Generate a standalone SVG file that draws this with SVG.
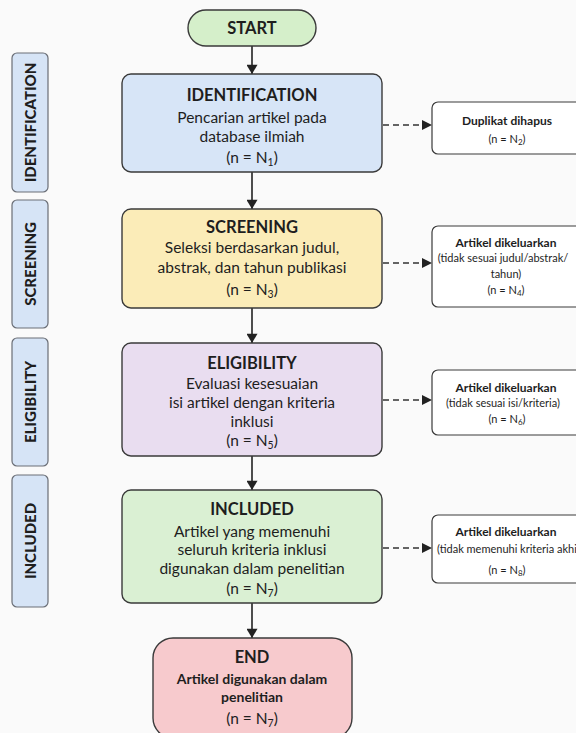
<svg xmlns="http://www.w3.org/2000/svg" width="576" height="733" viewBox="0 0 576 733">
<defs>
<style>
text{font-family:Lato,"Open Sans","Liberation Sans",sans-serif;fill:#1e1e1e;text-anchor:middle}
.t{font-size:16.5px;font-weight:700}
.b{font-size:15.5px}
.eb{font-size:14px;font-weight:700}
.st{font-size:12px;font-weight:700}
.sb{font-size:11px}
.lab{font-size:15px;font-weight:900}
.box{stroke:#3a3a3a;stroke-width:1.4}
.side{fill:#ffffff;stroke:#3a3a3a;stroke-width:1.2}
.bar{fill:#d6e4f6;stroke:#6a6e76;stroke-width:1.2}
.arr{stroke:#222;stroke-width:1.6;fill:none}
.dash{stroke:#333;stroke-width:1.4;fill:none;stroke-dasharray:6 4}
</style>
<marker id="ah" viewBox="0 0 10 12" refX="10" refY="6" markerWidth="12" markerHeight="11" markerUnits="userSpaceOnUse" orient="auto">
<path d="M0,0 L10,6 L0,12 Z" fill="#222"/>
</marker>
<marker id="ahs" viewBox="0 0 10 10" refX="10" refY="5" markerWidth="10" markerHeight="10" markerUnits="userSpaceOnUse" orient="auto">
<path d="M0,0 L10,5 L0,10 Z" fill="#222"/>
</marker>
</defs>
<rect width="576" height="733" fill="#fafafa"/>

<g id="label-identification"><rect class="bar" x="12" y="53" width="36" height="139" rx="5"/><text class="lab" transform="translate(35.5,122.5) rotate(-90)">IDENTIFICATION</text></g>
<g id="label-screening"><rect class="bar" x="12" y="200" width="36" height="128" rx="5"/><text class="lab" transform="translate(35.5,264) rotate(-90)">SCREENING</text></g>
<g id="label-eligibility"><rect class="bar" x="12" y="338" width="36" height="128" rx="5"/><text class="lab" transform="translate(35.5,402) rotate(-90)">ELIGIBILITY</text></g>
<g id="label-included"><rect class="bar" x="12" y="475" width="36" height="132" rx="5"/><text class="lab" transform="translate(35.5,541) rotate(-90)">INCLUDED</text></g>

<g id="connectors">
<line class="arr" x1="252" y1="46" x2="252" y2="74" marker-end="url(#ah)"/>
<line class="arr" x1="252" y1="172" x2="252" y2="209" marker-end="url(#ah)"/>
<line class="arr" x1="252" y1="308" x2="252" y2="343" marker-end="url(#ah)"/>
<line class="arr" x1="252" y1="456" x2="252" y2="490" marker-end="url(#ah)"/>
<line class="arr" x1="252" y1="603" x2="252" y2="638" marker-end="url(#ah)"/>
<line class="dash" x1="383" y1="125" x2="432" y2="125" marker-end="url(#ahs)"/>
<line class="dash" x1="383" y1="263" x2="432" y2="263" marker-end="url(#ahs)"/>
<line class="dash" x1="383" y1="400" x2="432" y2="400" marker-end="url(#ahs)"/>
<line class="dash" x1="383" y1="548" x2="432" y2="548" marker-end="url(#ahs)"/>
</g>

<g id="start"><rect class="box" x="188" y="10" width="128" height="36" rx="18" fill="#d5efca"/><text class="t" x="252" y="34">START</text></g>

<g id="identification"><rect class="box" x="122" y="74" width="260" height="98" rx="9" fill="#d7e5f7"/>
<text class="t" x="252" y="101">IDENTIFICATION</text>
<text class="b" x="252" y="122.5">Pencarian artikel pada</text>
<text class="b" x="252" y="141.5">database ilmiah</text>
<text class="b" x="252" y="162.5">(n = N<tspan font-size="10.5" dy="3">1</tspan><tspan dy="-3">)</tspan></text></g>

<g id="screening"><rect class="box" x="122" y="209" width="260" height="99" rx="9" fill="#fbecb8"/>
<text class="t" x="252" y="233">SCREENING</text>
<text class="b" x="252" y="252.5">Seleksi berdasarkan judul,</text>
<text class="b" x="252" y="272.5">abstrak, dan tahun publikasi</text>
<text class="b" x="252" y="294.5">(n = N<tspan font-size="10.5" dy="3">3</tspan><tspan dy="-3">)</tspan></text></g>

<g id="eligibility"><rect class="box" x="122" y="343" width="260" height="113" rx="9" fill="#e9ddf0"/>
<text class="t" x="252" y="369">ELIGIBILITY</text>
<text class="b" x="252" y="388.5">Evaluasi kesesuaian</text>
<text class="b" x="252" y="407.5">isi artikel dengan kriteria</text>
<text class="b" x="252" y="426.5">inklusi</text>
<text class="b" x="252" y="445.5">(n = N<tspan font-size="10.5" dy="3">5</tspan><tspan dy="-3">)</tspan></text></g>

<g id="included"><rect class="box" x="122" y="490" width="260" height="113" rx="9" fill="#daf0d3"/>
<text class="t" x="252" y="515">INCLUDED</text>
<text class="b" x="252" y="536.5">Artikel yang memenuhi</text>
<text class="b" x="252" y="554.5">seluruh kriteria inklusi</text>
<text class="b" x="252" y="573.5">digunakan dalam penelitian</text>
<text class="b" x="252" y="593.5">(n = N<tspan font-size="10.5" dy="3">7</tspan><tspan dy="-3">)</tspan></text></g>

<g id="end"><rect class="box" x="153" y="638" width="199" height="100" rx="20" fill="#f7cacd"/>
<text class="t" x="252" y="663">END</text>
<text class="eb" x="252" y="684">Artikel digunakan dalam</text>
<text class="eb" x="252" y="702">penelitian</text>
<text class="b" x="252" y="723.5">(n = N<tspan font-size="10.5" dy="3">7</tspan><tspan dy="-3">)</tspan></text></g>

<g id="excluded-1"><rect class="side" x="432" y="102" width="152" height="52" rx="6"/>
<text class="st" x="507" y="124.5">Duplikat dihapus</text>
<text class="sb" x="507" y="143">(n = N<tspan font-size="8" dy="2">2</tspan><tspan dy="-2">)</tspan></text></g>

<g id="excluded-2"><rect class="side" x="432" y="226" width="152" height="81" rx="6"/>
<text class="st" x="506" y="246.5">Artikel dikeluarkan</text>
<text class="sb" x="503" y="262">(tidak sesuai judul/abstrak/</text>
<text class="sb" x="506" y="278">tahun)</text>
<text class="sb" x="506" y="294">(n = N<tspan font-size="8" dy="2">4</tspan><tspan dy="-2">)</tspan></text></g>

<g id="excluded-3"><rect class="side" x="432" y="370" width="152" height="65" rx="6"/>
<text class="st" x="506" y="391.5">Artikel dikeluarkan</text>
<text class="sb" x="503" y="407">(tidak sesuai isi/kriteria)</text>
<text class="sb" x="507" y="423">(n = N<tspan font-size="8" dy="2">6</tspan><tspan dy="-2">)</tspan></text></g>

<g id="excluded-4"><rect class="side" x="432" y="515" width="152" height="68" rx="6"/>
<text class="st" x="506" y="535.5">Artikel dikeluarkan</text>
<text class="sb" x="437" y="553" style="text-anchor:start">(tidak memenuhi kriteria akhi</text>
<text class="sb" x="507" y="574">(n = N<tspan font-size="8" dy="2">8</tspan><tspan dy="-2">)</tspan></text></g>
</svg>
